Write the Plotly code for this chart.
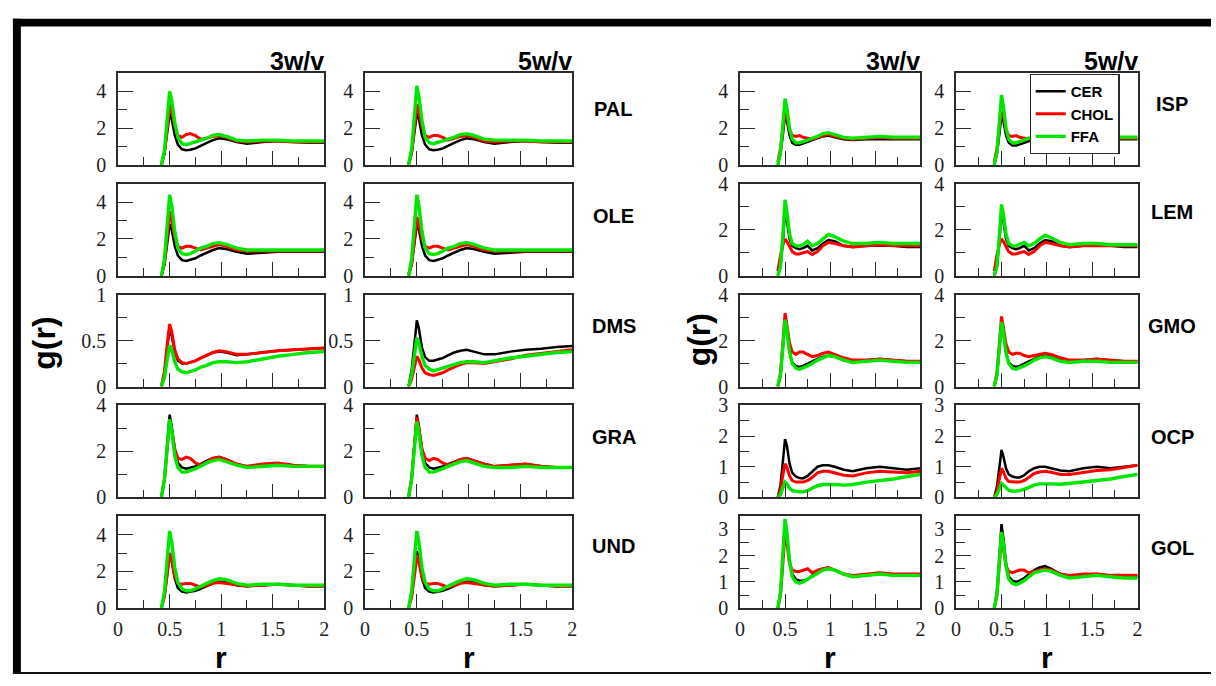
import plotly.graph_objects as go

W, H = 1216, 686

# radial distance grid (nm) shared by all g(r) curves
R = [0.42, 0.45, 0.48, 0.50, 0.52, 0.55, 0.58, 0.62, 0.66, 0.70, 0.75, 0.80,
     0.86, 0.92, 0.98, 1.05, 1.15, 1.25, 1.40, 1.55, 1.70, 1.85, 2.00]

SERIES = ["CER", "CHOL", "FFA"]
COLORS = {"CER": "#000000", "CHOL": "#ff0000", "FFA": "#00e600"}
WIDTHS = {"CER": 2.5, "CHOL": 3.0, "FFA": 3.4}

# ---- PAL ----
PAL_3_CER = [0, 0.6, 1.9, 2.8, 2.5, 1.6, 1.1, 0.85, 0.8, 0.82, 0.9, 1.05, 1.2, 1.35, 1.45, 1.4, 1.25, 1.15, 1.25, 1.3, 1.25, 1.2, 1.2]
PAL_3_CHOL = [0, 0.7, 2.2, 3.3, 2.9, 2.1, 1.6, 1.5, 1.65, 1.7, 1.6, 1.4, 1.45, 1.55, 1.6, 1.5, 1.3, 1.25, 1.3, 1.3, 1.25, 1.25, 1.25]
PAL_3_FFA = [0, 0.8, 2.7, 4.0, 3.5, 2.3, 1.5, 1.15, 1.1, 1.15, 1.25, 1.35, 1.45, 1.6, 1.65, 1.55, 1.35, 1.3, 1.35, 1.35, 1.3, 1.3, 1.3]
PAL_5_CER = [0, 0.6, 1.9, 2.8, 2.5, 1.6, 1.1, 0.85, 0.8, 0.82, 0.9, 1.05, 1.2, 1.35, 1.45, 1.4, 1.25, 1.15, 1.25, 1.3, 1.25, 1.2, 1.2]
PAL_5_CHOL = [0, 0.7, 2.2, 3.3, 2.9, 2.1, 1.6, 1.5, 1.6, 1.6, 1.5, 1.35, 1.45, 1.55, 1.6, 1.5, 1.3, 1.25, 1.3, 1.3, 1.25, 1.25, 1.25]
PAL_5_FFA = [0, 0.85, 2.9, 4.3, 3.7, 2.4, 1.5, 1.2, 1.15, 1.2, 1.3, 1.4, 1.5, 1.65, 1.7, 1.6, 1.4, 1.35, 1.35, 1.35, 1.3, 1.3, 1.3]

# ---- OLE ----
OLE_3_CER = [0, 0.6, 1.9, 2.8, 2.5, 1.6, 1.1, 0.85, 0.8, 0.85, 0.95, 1.1, 1.25, 1.4, 1.5, 1.45, 1.3, 1.2, 1.25, 1.3, 1.3, 1.3, 1.3]
OLE_3_CHOL = [0, 0.7, 2.3, 3.5, 3.0, 2.1, 1.6, 1.5, 1.6, 1.6, 1.5, 1.4, 1.5, 1.6, 1.7, 1.6, 1.4, 1.35, 1.35, 1.35, 1.35, 1.35, 1.35]
OLE_3_FFA = [0, 0.9, 3.0, 4.4, 3.8, 2.4, 1.5, 1.2, 1.15, 1.2, 1.35, 1.5, 1.6, 1.75, 1.8, 1.7, 1.5, 1.4, 1.4, 1.4, 1.4, 1.4, 1.4]
OLE_5_CER = [0, 0.6, 1.9, 2.8, 2.5, 1.6, 1.1, 0.85, 0.8, 0.85, 0.95, 1.1, 1.25, 1.4, 1.5, 1.45, 1.3, 1.2, 1.25, 1.3, 1.3, 1.3, 1.3]
OLE_5_CHOL = [0, 0.65, 2.1, 3.2, 2.8, 2.0, 1.6, 1.5, 1.6, 1.6, 1.5, 1.4, 1.5, 1.6, 1.7, 1.6, 1.4, 1.35, 1.35, 1.35, 1.35, 1.35, 1.35]
OLE_5_FFA = [0, 0.9, 3.0, 4.4, 3.8, 2.4, 1.5, 1.2, 1.15, 1.2, 1.35, 1.5, 1.6, 1.75, 1.8, 1.7, 1.5, 1.4, 1.4, 1.4, 1.4, 1.4, 1.4]

# ---- DMS ----
DMS_3_CER = [0, 0.15, 0.45, 0.62, 0.55, 0.38, 0.28, 0.25, 0.25, 0.26, 0.28, 0.31, 0.34, 0.37, 0.38, 0.37, 0.34, 0.35, 0.37, 0.39, 0.4, 0.41, 0.42]
DMS_3_CHOL = [0, 0.17, 0.5, 0.68, 0.6, 0.4, 0.3, 0.26, 0.25, 0.26, 0.28, 0.31, 0.34, 0.37, 0.39, 0.38, 0.35, 0.35, 0.37, 0.39, 0.4, 0.41, 0.42]
DMS_3_FFA = [0, 0.1, 0.32, 0.45, 0.4, 0.27, 0.19, 0.16, 0.15, 0.16, 0.18, 0.21, 0.23, 0.26, 0.27, 0.27, 0.26, 0.27, 0.3, 0.33, 0.35, 0.37, 0.38]
DMS_5_CER = [0, 0.18, 0.5, 0.72, 0.63, 0.42, 0.32, 0.28, 0.28, 0.29, 0.31, 0.34, 0.37, 0.39, 0.4, 0.38, 0.35, 0.35, 0.38, 0.4, 0.41, 0.43, 0.44]
DMS_5_CHOL = [0, 0.08, 0.23, 0.33, 0.29, 0.2, 0.15, 0.13, 0.12, 0.13, 0.15, 0.18, 0.21, 0.24, 0.26, 0.26, 0.25, 0.27, 0.3, 0.34, 0.36, 0.38, 0.4]
DMS_5_FFA = [0, 0.13, 0.37, 0.53, 0.47, 0.32, 0.23, 0.19, 0.17, 0.18, 0.2, 0.22, 0.24, 0.26, 0.27, 0.27, 0.26, 0.28, 0.31, 0.33, 0.35, 0.37, 0.38]

# ---- GRA ----
GRA_3_CER = [0, 0.8, 2.5, 3.6, 3.1, 2.1, 1.5, 1.3, 1.25, 1.28, 1.35, 1.45, 1.6, 1.7, 1.75, 1.65, 1.45, 1.35, 1.4, 1.45, 1.4, 1.35, 1.35]
GRA_3_CHOL = [0, 0.8, 2.3, 3.3, 2.9, 2.1, 1.7, 1.65, 1.75, 1.7, 1.5, 1.4, 1.55, 1.7, 1.75, 1.65, 1.45, 1.35, 1.45, 1.5, 1.4, 1.35, 1.35]
GRA_3_FFA = [0, 0.8, 2.4, 3.4, 2.9, 1.8, 1.3, 1.1, 1.1, 1.15, 1.25, 1.35, 1.5, 1.6, 1.65, 1.55, 1.4, 1.3, 1.35, 1.4, 1.35, 1.35, 1.35]
GRA_5_CER = [0, 0.8, 2.5, 3.6, 3.1, 2.1, 1.5, 1.3, 1.25, 1.28, 1.35, 1.45, 1.55, 1.65, 1.7, 1.6, 1.45, 1.35, 1.4, 1.45, 1.35, 1.3, 1.3]
GRA_5_CHOL = [0, 0.85, 2.4, 3.5, 3.0, 2.1, 1.7, 1.6, 1.7, 1.65, 1.5, 1.4, 1.5, 1.65, 1.7, 1.6, 1.45, 1.35, 1.4, 1.45, 1.35, 1.3, 1.3]
GRA_5_FFA = [0, 0.8, 2.3, 3.3, 2.8, 1.8, 1.3, 1.1, 1.1, 1.15, 1.25, 1.35, 1.45, 1.55, 1.6, 1.5, 1.35, 1.3, 1.3, 1.35, 1.3, 1.3, 1.3]

# ---- UND ----
UND_3_CER = [0, 0.65, 2.0, 3.0, 2.6, 1.6, 1.1, 0.9, 0.85, 0.88, 0.95, 1.05, 1.2, 1.35, 1.45, 1.4, 1.25, 1.2, 1.25, 1.3, 1.25, 1.2, 1.2]
UND_3_CHOL = [0, 0.65, 2.0, 3.0, 2.6, 1.7, 1.35, 1.3, 1.35, 1.35, 1.25, 1.15, 1.25, 1.35, 1.4, 1.35, 1.25, 1.2, 1.25, 1.3, 1.25, 1.2, 1.2]
UND_3_FFA = [0, 0.9, 2.9, 4.2, 3.6, 2.2, 1.4, 1.05, 0.95, 0.95, 1.05, 1.2, 1.35, 1.5, 1.6, 1.55, 1.35, 1.25, 1.3, 1.3, 1.25, 1.25, 1.25]
UND_5_CER = [0, 0.65, 2.1, 3.1, 2.7, 1.6, 1.1, 0.9, 0.85, 0.88, 0.95, 1.05, 1.2, 1.35, 1.45, 1.4, 1.25, 1.2, 1.25, 1.3, 1.25, 1.2, 1.2]
UND_5_CHOL = [0, 0.6, 1.9, 2.9, 2.5, 1.7, 1.35, 1.3, 1.35, 1.35, 1.25, 1.15, 1.25, 1.35, 1.4, 1.35, 1.25, 1.2, 1.25, 1.3, 1.25, 1.2, 1.2]
UND_5_FFA = [0, 0.9, 2.9, 4.2, 3.6, 2.2, 1.4, 1.05, 0.95, 0.95, 1.05, 1.2, 1.35, 1.5, 1.6, 1.55, 1.35, 1.25, 1.3, 1.3, 1.25, 1.25, 1.25]

# ---- ISP ----
ISP_3_CER = [0, 0.6, 1.8, 2.7, 2.4, 1.6, 1.2, 1.1, 1.1, 1.15, 1.25, 1.35, 1.45, 1.55, 1.6, 1.5, 1.4, 1.35, 1.4, 1.4, 1.4, 1.4, 1.4]
ISP_3_CHOL = [0.15, 0.9, 2.1, 3.0, 2.6, 1.9, 1.6, 1.55, 1.6, 1.5, 1.45, 1.4, 1.5, 1.6, 1.65, 1.55, 1.45, 1.4, 1.45, 1.5, 1.45, 1.45, 1.45]
ISP_3_FFA = [0, 0.7, 2.4, 3.6, 3.1, 2.0, 1.4, 1.2, 1.2, 1.25, 1.35, 1.45, 1.55, 1.7, 1.75, 1.65, 1.5, 1.45, 1.5, 1.55, 1.5, 1.5, 1.5]
ISP_5_CER = [0, 0.6, 1.8, 2.7, 2.4, 1.6, 1.2, 1.05, 1.05, 1.1, 1.2, 1.3, 1.4, 1.5, 1.55, 1.5, 1.4, 1.35, 1.4, 1.4, 1.4, 1.4, 1.4]
ISP_5_CHOL = [0.15, 0.9, 2.2, 3.1, 2.7, 1.9, 1.6, 1.55, 1.6, 1.5, 1.45, 1.4, 1.5, 1.6, 1.7, 1.6, 1.45, 1.4, 1.45, 1.5, 1.45, 1.45, 1.45]
ISP_5_FFA = [0, 0.7, 2.5, 3.8, 3.2, 2.0, 1.4, 1.2, 1.2, 1.25, 1.35, 1.45, 1.6, 1.75, 1.8, 1.7, 1.55, 1.45, 1.5, 1.55, 1.5, 1.5, 1.5]

# ---- LEM ----
LEM_3_CER = [0, 0.4, 1.7, 2.8, 2.4, 1.6, 1.3, 1.2, 1.15, 1.2, 1.3, 1.1, 1.2, 1.4, 1.55, 1.5, 1.3, 1.25, 1.3, 1.3, 1.3, 1.25, 1.25]
LEM_3_CHOL = [0.2, 0.9, 1.4, 1.6, 1.5, 1.25, 1.05, 0.95, 0.95, 1.0, 1.05, 0.92, 1.05, 1.3, 1.45, 1.4, 1.3, 1.25, 1.3, 1.35, 1.3, 1.3, 1.3]
LEM_3_FFA = [0, 0.4, 2.0, 3.3, 2.8, 1.8, 1.4, 1.3, 1.3, 1.35, 1.5, 1.3, 1.4, 1.6, 1.8, 1.7, 1.5, 1.4, 1.4, 1.45, 1.4, 1.4, 1.4]
LEM_5_CER = [0, 0.4, 1.7, 2.8, 2.4, 1.6, 1.3, 1.2, 1.15, 1.2, 1.3, 1.1, 1.2, 1.4, 1.55, 1.5, 1.3, 1.25, 1.3, 1.3, 1.3, 1.25, 1.25]
LEM_5_CHOL = [0.2, 0.9, 1.4, 1.6, 1.5, 1.25, 1.05, 0.95, 0.95, 1.0, 1.05, 0.92, 1.05, 1.3, 1.45, 1.4, 1.3, 1.25, 1.3, 1.3, 1.3, 1.3, 1.3]
LEM_5_FFA = [0, 0.4, 1.9, 3.1, 2.7, 1.8, 1.4, 1.3, 1.3, 1.35, 1.45, 1.3, 1.4, 1.6, 1.75, 1.65, 1.45, 1.35, 1.4, 1.4, 1.35, 1.35, 1.35]

# ---- GMO ----
GMO_3_CER = [0, 0.5, 1.9, 2.8, 2.4, 1.5, 1.05, 0.9, 0.85, 0.9, 1.0, 1.1, 1.2, 1.3, 1.35, 1.3, 1.15, 1.1, 1.15, 1.2, 1.15, 1.1, 1.1]
GMO_3_CHOL = [0, 0.6, 2.1, 3.2, 2.7, 1.9, 1.5, 1.4, 1.5, 1.5, 1.4, 1.3, 1.35, 1.45, 1.5, 1.4, 1.25, 1.15, 1.15, 1.2, 1.15, 1.1, 1.1]
GMO_3_FFA = [0, 0.5, 1.9, 2.9, 2.5, 1.5, 1.0, 0.8, 0.75, 0.8, 0.9, 1.0, 1.15, 1.25, 1.35, 1.3, 1.15, 1.05, 1.1, 1.15, 1.1, 1.05, 1.05]
GMO_5_CER = [0, 0.5, 1.8, 2.7, 2.3, 1.5, 1.05, 0.9, 0.85, 0.9, 1.0, 1.1, 1.2, 1.3, 1.35, 1.3, 1.15, 1.1, 1.15, 1.2, 1.15, 1.1, 1.1]
GMO_5_CHOL = [0, 0.6, 2.0, 3.05, 2.6, 1.85, 1.5, 1.4, 1.45, 1.45, 1.35, 1.3, 1.35, 1.4, 1.45, 1.4, 1.25, 1.15, 1.15, 1.2, 1.15, 1.1, 1.1]
GMO_5_FFA = [0, 0.5, 1.85, 2.8, 2.4, 1.45, 1.0, 0.8, 0.75, 0.8, 0.9, 1.0, 1.15, 1.25, 1.3, 1.25, 1.1, 1.05, 1.1, 1.1, 1.05, 1.05, 1.05]

# ---- OCP ----
OCP_3_CER = [0, 0.4, 1.3, 1.9, 1.7, 1.1, 0.8, 0.68, 0.63, 0.62, 0.7, 0.85, 1.0, 1.05, 1.05, 1.0, 0.9, 0.85, 0.95, 1.0, 0.95, 0.9, 0.95]
OCP_3_CHOL = [0, 0.25, 0.8, 1.1, 1.0, 0.7, 0.55, 0.5, 0.5, 0.5, 0.55, 0.65, 0.8, 0.85, 0.85, 0.8, 0.72, 0.7, 0.8, 0.85, 0.82, 0.8, 0.85]
OCP_3_FFA = [0, 0.1, 0.35, 0.5, 0.45, 0.3, 0.22, 0.19, 0.18, 0.18, 0.22, 0.3, 0.38, 0.42, 0.43, 0.42, 0.4, 0.42, 0.5, 0.55, 0.6, 0.68, 0.75]
OCP_5_CER = [0, 0.35, 1.05, 1.55, 1.35, 0.95, 0.75, 0.68, 0.65, 0.65, 0.72, 0.85, 0.95, 1.0, 1.0, 0.95, 0.88, 0.85, 0.95, 1.0, 0.95, 1.0, 1.05]
OCP_5_CHOL = [0, 0.2, 0.65, 0.95, 0.85, 0.62, 0.52, 0.5, 0.5, 0.5, 0.55, 0.65, 0.78, 0.83, 0.85, 0.82, 0.75, 0.75, 0.82, 0.88, 0.9, 0.98, 1.05]
OCP_5_FFA = [0, 0.1, 0.3, 0.45, 0.4, 0.3, 0.23, 0.2, 0.2, 0.22, 0.26, 0.33, 0.4, 0.44, 0.45, 0.44, 0.43, 0.45, 0.5, 0.55, 0.6, 0.68, 0.75]

# ---- GOL ----
GOL_3_CER = [0, 0.6, 2.2, 3.3, 2.8, 1.8, 1.3, 1.1, 1.05, 1.05, 1.1, 1.25, 1.4, 1.5, 1.55, 1.45, 1.3, 1.2, 1.25, 1.3, 1.25, 1.25, 1.25]
GOL_3_CHOL = [0, 0.5, 1.9, 2.9, 2.5, 1.7, 1.45, 1.4, 1.4, 1.45, 1.5, 1.35, 1.45, 1.5, 1.55, 1.45, 1.3, 1.25, 1.3, 1.35, 1.3, 1.3, 1.3]
GOL_3_FFA = [0, 0.6, 2.3, 3.4, 2.9, 1.8, 1.2, 1.0, 0.95, 1.0, 1.1, 1.2, 1.35, 1.45, 1.5, 1.45, 1.3, 1.2, 1.25, 1.3, 1.25, 1.25, 1.25]
GOL_5_CER = [0, 0.6, 2.1, 3.2, 2.7, 1.7, 1.2, 1.05, 1.0, 1.05, 1.15, 1.3, 1.45, 1.55, 1.6, 1.5, 1.3, 1.2, 1.25, 1.3, 1.25, 1.2, 1.2]
GOL_5_CHOL = [0, 0.5, 1.8, 2.7, 2.3, 1.6, 1.4, 1.35, 1.4, 1.45, 1.45, 1.35, 1.4, 1.45, 1.5, 1.45, 1.3, 1.25, 1.3, 1.3, 1.25, 1.25, 1.25]
GOL_5_FFA = [0, 0.55, 2.0, 2.9, 2.5, 1.6, 1.1, 0.95, 0.9, 0.95, 1.05, 1.2, 1.35, 1.4, 1.45, 1.4, 1.25, 1.15, 1.2, 1.25, 1.2, 1.15, 1.15]

LEFT_SYSTEMS = ["PAL", "OLE", "DMS", "GRA", "UND"]
RIGHT_SYSTEMS = ["ISP", "LEM", "GMO", "OCP", "GOL"]
CONCENTRATIONS = ["3w/v", "5w/v"]
# y axis: (max, major step, minor step) per system
Y_AXES = {
    "PAL": (5, 2, 1), "OLE": (5, 2, 1), "DMS": (1, 0.5, 0.25), "GRA": (4, 2, 1), "UND": (5, 2, 1),
    "ISP": (5, 2, 1), "LEM": (4, 2, 1), "GMO": (4, 2, 1), "OCP": (3, 1, 0.5), "GOL": (3.5, 1, 0.5),
}

# ---- page geometry (pixels) ----
COL_X = {("L", 0): (114, 322), ("L", 1): (363, 572), ("R", 0): (741, 923), ("R", 1): (959, 1142)}
ROW_TOP = [64, 178.5, 293, 407.5, 522]
ROW_H = 95
NAME_X = {"L": 614, "R": 1177}
NAME_Y = {"PAL": 101, "OLE": 212, "DMS": 325, "GRA": 440, "UND": 553,
          "ISP": 96, "LEM": 208, "GMO": 325, "OCP": 440, "GOL": 555}

AXC = "#2b2b2b"
SERIF = "Liberation Serif"
SANS = "Liberation Sans"


def px_x(x):
    return x / W


def px_y(y):
    return 1 - y / H


fig = go.Figure()
layout = {}
annotations = []
k = 0
for side, systems in (("L", LEFT_SYSTEMS), ("R", RIGHT_SYSTEMS)):
    for row, sysname in enumerate(systems):
        for col, conc in enumerate(CONCENTRATIONS):
            k += 1
            xa, ya = f"x{k}", f"y{k}"
            for s in SERIES:
                vals = globals()[f"{sysname}_{conc[0]}_{s}"]
                fig.add_trace(go.Scatter(
                    x=R, y=vals, mode="lines", name=s, xaxis=xa, yaxis=ya,
                    line=dict(color=COLORS[s], width=WIDTHS[s]),
                    showlegend=(k == 1), legendrank={"CER": 1, "CHOL": 2, "FFA": 3}[s],
                ))
            x0, x1 = COL_X[(side, col)]
            top = ROW_TOP[row]
            ymax, ystep, yminor = Y_AXES[sysname]
            layout["xaxis" if k == 1 else f"xaxis{k}"] = dict(
                domain=[px_x(x0), px_x(x1)], anchor=ya, range=[0, 2],
                tick0=0, dtick=0.5, ticks="inside", ticklen=14, tickwidth=1.3, tickcolor=AXC,
                minor=dict(dtick=0.25, ticks="inside", ticklen=8, tickwidth=1.3, tickcolor=AXC),
                showline=True, linecolor=AXC, linewidth=1.5, mirror=True,
                showgrid=False, zeroline=False, showticklabels=(row == 4),
                tickfont=dict(family=SERIF, size=20, color="#222"), ticklabelstandoff=2,
            )
            layout["yaxis" if k == 1 else f"yaxis{k}"] = dict(
                domain=[px_y(top + ROW_H), px_y(top)], anchor=xa, range=[0, ymax],
                tick0=0, dtick=ystep, ticks="inside", ticklen=15, tickwidth=1.3, tickcolor=AXC,
                minor=dict(dtick=yminor, ticks="inside", ticklen=9, tickwidth=1.3, tickcolor=AXC),
                showline=True, linecolor=AXC, linewidth=1.5, mirror=True,
                showgrid=False, zeroline=False,
                tickfont=dict(family=SERIF, size=20, color="#222"), ticklabelstandoff=6,
            )
            if row == 0:
                annotations.append(dict(
                    text=conc, x=px_x(x1 + 2), y=px_y(52), xref="paper", yref="paper",
                    xanchor="right", yanchor="middle", showarrow=False,
                    font=dict(family=SANS, size=25, color="#000", weight="bold")))
            if row == 4:
                annotations.append(dict(
                    text="r", x=px_x((x0 + x1) / 2), y=px_y(650), xref="paper", yref="paper",
                    xanchor="center", yanchor="top", showarrow=False, borderpad=0,
                    font=dict(family=SANS, size=30, color="#000", weight="bold")))
        annotations.append(dict(
            text=sysname, x=px_x(NAME_X[side]), y=px_y(NAME_Y[sysname]), xref="paper", yref="paper",
            xanchor="center", yanchor="middle", showarrow=False,
            font=dict(family=SANS, size=20, color="#000", weight="bold")))

# y axis titles for the two blocks
for gx, gy in ((39, 343), (700, 340)):
    annotations.append(dict(
        text="g(r)", x=px_x(gx), y=px_y(gy), xref="paper", yref="paper", textangle=-90,
        xanchor="center", yanchor="middle", showarrow=False,
        font=dict(family=SANS, size=32, color="#000", weight="bold")))

# outer frame of the figure
shapes = [
    dict(type="rect", xref="paper", yref="paper", x0=px_x(8), x1=1, y0=px_y(16), y1=px_y(8),
         fillcolor="#000", line=dict(width=0)),
    dict(type="rect", xref="paper", yref="paper", x0=px_x(8), x1=px_x(16), y0=px_y(685), y1=px_y(8),
         fillcolor="#000", line=dict(width=0)),
    dict(type="rect", xref="paper", yref="paper", x0=px_x(8), x1=1, y0=px_y(685), y1=px_y(683),
         fillcolor="#111", line=dict(width=0)),
]

fig.update_layout(
    **layout,
    width=W, height=H, autosize=False,
    margin=dict(l=0, r=0, t=0, b=0, pad=0),
    paper_bgcolor="white", plot_bgcolor="white",
    annotations=annotations, shapes=shapes,
    legend=dict(x=px_x(1033), y=px_y(65), xanchor="left", yanchor="top",
                bgcolor="white", bordercolor=AXC, borderwidth=1.2,
                font=dict(family=SANS, size=15, color="#000", weight="bold"),
                itemwidth=30, tracegroupgap=0),
)

# page body without default margin so the figure sits at the window origin
fig.write_html(
    "out.html",
    post_script="document.body.style.margin='0';document.documentElement.style.overflow='hidden';",
)
